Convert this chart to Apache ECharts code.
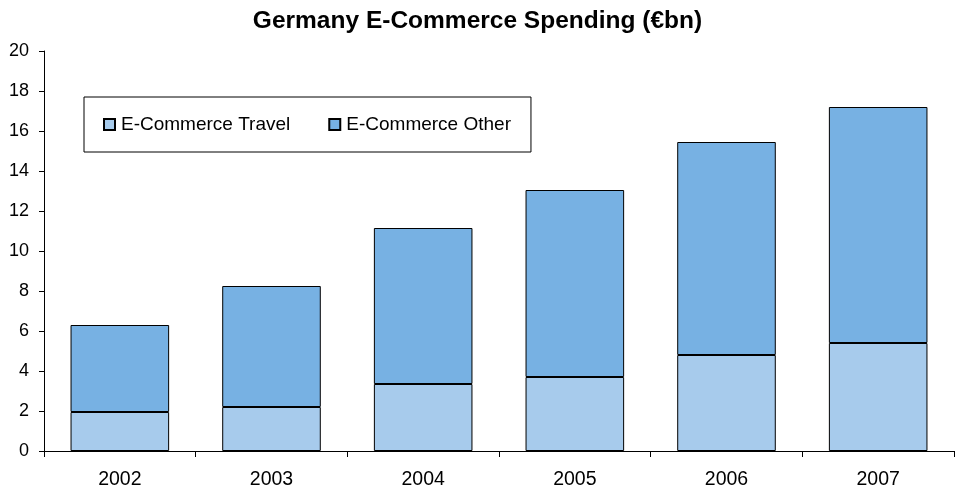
<!DOCTYPE html>
<html>
<head>
<meta charset="utf-8">
<script src="https://cdn.jsdelivr.net/npm/echarts@6/dist/echarts.min.js"></script>
<style>
  html, body { margin: 0; padding: 0; background: #fff; }
  #chart { width: 955px; height: 494px; }
</style>
</head>
<body>
<div id="chart"></div>
<script>
// German e-commerce spending by year, in billions of euro
const years = ['2002', '2003', '2004', '2005', '2006', '2007'];
const travel = [1.95, 2.2, 3.35, 3.7, 4.8, 5.4];
const other = [4.35, 6.05, 7.8, 9.35, 10.65, 11.8];
const seriesNames = ['E-Commerce Travel', 'E-Commerce Other'];
const yTicks = { min: 0, max: 20, interval: 2 };

const font = 'Liberation Sans, Arial, sans-serif';
const chart = echarts.init(document.getElementById('chart'), null, { renderer: 'canvas' });

chart.setOption({
  animation: false,
  backgroundColor: '#ffffff',
  title: {
    text: 'Germany E-Commerce Spending (€bn)',
    left: 'center',
    top: 4,
    textStyle: { fontFamily: font, fontSize: 24.5, fontWeight: 'bold', color: '#000' }
  },
  legend: {
    data: seriesNames,
    left: 84,
    top: 97,
    orient: 'horizontal',
    padding: [18, 20, 18, 19],
    itemGap: 38,
    itemWidth: 11,
    itemHeight: 11,
    icon: 'rect',
    borderColor: '#000',
    borderWidth: 1,
    backgroundColor: '#fff',
    textStyle: { fontFamily: font, fontSize: 19, color: '#000', padding: [0, 0, 0, 1] }
  },
  grid: { left: 44, right: 1, top: 51, bottom: 43, containLabel: false },
  xAxis: {
    type: 'category',
    data: years,
    boundaryGap: true,
    axisLine: { lineStyle: { color: '#000', width: 1 } },
    axisTick: { show: true, inside: false, length: 6, alignWithLabel: false, lineStyle: { color: '#000' } },
    axisLabel: { fontFamily: font, fontSize: 19.5, color: '#000', margin: 19 },
    splitLine: { show: false }
  },
  yAxis: {
    type: 'value',
    min: yTicks.min,
    max: yTicks.max,
    interval: yTicks.interval,
    axisLine: { show: true, lineStyle: { color: '#000', width: 1 } },
    axisTick: { show: true, inside: false, length: 5, lineStyle: { color: '#000' } },
    axisLabel: { fontFamily: font, fontSize: 18, color: '#000', margin: 15 },
    splitLine: { show: false }
  },
  series: [
    {
      name: seriesNames[0],
      type: 'bar',
      stack: 'total',
      data: travel,
      barWidth: '65%',
      itemStyle: { color: '#A7CBEC', borderColor: '#000', borderWidth: 1 }
    },
    {
      name: seriesNames[1],
      type: 'bar',
      stack: 'total',
      data: other,
      barWidth: '65%',
      itemStyle: { color: '#77B1E3', borderColor: '#000', borderWidth: 1 }
    }
  ]
});
</script>
</body>
</html>
